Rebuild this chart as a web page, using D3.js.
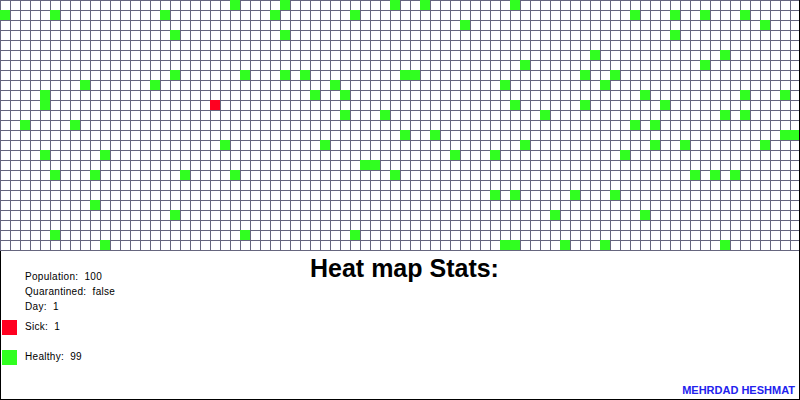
<!DOCTYPE html>
<html>
<head>
<meta charset="utf-8">
<script src="https://cdn.jsdelivr.net/npm/d3@7"></script>
<style>
  html, body { margin: 0; padding: 0; background: #fff; }
  svg { display: block; }
  text { white-space: pre; }
</style>
</head>
<body>
<svg id="chart" width="800" height="400"></svg>
<script>
// ---- data ----
const nCols = 80;
const nRows = 25;
const healthyCols = [0,5,16,17,17,8,15,4,4,2,7,
  23,28,39,27,35,28,24,28,30,33,31,34,34,38,
  42,51,46,59,52,40,41,58,50,51,58,54,
  63,67,70,74,76,67,72,70,61,60,64,74,78,66,72,74,63,65,
  4,10,5,9,18,9,17,5,10,
  22,32,36,37,23,39,24,35,
  40,43,52,45,49,49,51,57,55,50,51,56,
  78,79,65,68,76,62,69,71,73,61,64,60,72];
const healthyRows = [1,1,1,3,7,8,8,9,10,12,12,
  0,0,0,1,1,3,7,7,7,8,9,9,11,11,
  0,0,2,5,6,7,7,7,8,10,10,11,
  1,1,1,1,2,3,5,6,7,8,9,9,9,10,11,11,12,12,
  15,15,17,17,17,20,21,23,24,
  14,14,16,16,17,17,23,23,
  13,13,14,15,15,19,19,19,21,24,24,24,
  13,13,14,14,14,15,17,17,17,19,21,24,24];
const sickCols = [21];
const sickRows = [10];
const statLabels = ["Population:", "Quarantined:", "Day:"];
const statValues = ["100", "false", "1"];
const legendLabels = ["Sick:", "Healthy:"];
const legendCounts = [1, 99];
const legendColors = ["#ff0020", "#30ff20"];
const titleText = "Heat map Stats:";
const authorText = "MEHRDAD HESHMAT";

// ---- drawing ----
const svg = d3.select("#chart");
const x = d3.scaleBand().domain(d3.range(nCols)).range([0, 800]);
const y = d3.scaleBand().domain(d3.range(nRows)).range([0, 250]);
const gridColor = "#66667f";

svg.append("rect").attr("width", 800).attr("height", 400).attr("fill", "#fff");

const grid = svg.append("g").attr("shape-rendering", "crispEdges");
grid.selectAll("line.v").data(d3.range(nCols + 1)).join("line")
  .attr("class", "v")
  .attr("x1", d => (d < nCols ? x(d) : 800) + 0.5)
  .attr("x2", d => (d < nCols ? x(d) : 800) + 0.5)
  .attr("y1", 0).attr("y2", 251)
  .attr("stroke", gridColor).attr("stroke-width", 1);
grid.selectAll("line.h").data(d3.range(nRows + 1)).join("line")
  .attr("class", "h")
  .attr("x1", 0).attr("x2", 800)
  .attr("y1", d => (d < nRows ? y(d) : 250) + 0.5)
  .attr("y2", d => (d < nRows ? y(d) : 250) + 0.5)
  .attr("stroke", gridColor).attr("stroke-width", 1);

const healthy = healthyCols.map((c, i) => ({c, r: healthyRows[i]}));
const sick = sickCols.map((c, i) => ({c, r: sickRows[i]}));

const cells = svg.append("g").attr("shape-rendering", "crispEdges");
cells.selectAll("rect.h").data(healthy).join("rect")
  .attr("class", "h")
  .attr("x", d => x(d.c)).attr("y", d => y(d.r))
  .attr("width", x.bandwidth()).attr("height", y.bandwidth())
  .attr("fill", legendColors[1]);
cells.selectAll("rect.s").data(sick).join("rect")
  .attr("class", "s")
  .attr("x", d => x(d.c)).attr("y", d => y(d.r))
  .attr("width", x.bandwidth()).attr("height", y.bandwidth())
  .attr("fill", legendColors[0]);

// frame lines
const frame = svg.append("g").attr("shape-rendering", "crispEdges").attr("stroke", "#000");
frame.append("line").attr("x1", 799.5).attr("x2", 799.5).attr("y1", 0).attr("y2", 400);
frame.append("line").attr("x1", 0.5).attr("x2", 0.5).attr("y1", 251).attr("y2", 400);
frame.append("line").attr("x1", 0).attr("x2", 800).attr("y1", 399.5).attr("y2", 399.5);

// title
svg.append("text")
  .attr("x", 310).attr("y", 277)
  .attr("font-family", "Liberation Sans, Arial, sans-serif")
  .attr("font-weight", "bold").attr("font-size", 25)
  .attr("fill", "#000")
  .text(titleText);

// stats
const fontFam = "Liberation Sans, Arial, sans-serif";
svg.append("g").selectAll("text").data(statLabels).join("text")
  .attr("x", 25).attr("y", (d, i) => 280 + i * 15)
  .attr("font-family", fontFam).attr("font-size", 10)
  .attr("letter-spacing", 0.3)
  .attr("fill", "#000")
  .text((d, i) => d + "  " + statValues[i]);

// legend
const leg = svg.append("g");
leg.selectAll("rect").data(legendLabels).join("rect")
  .attr("shape-rendering", "crispEdges")
  .attr("x", 2).attr("y", (d, i) => 320 + i * 30)
  .attr("width", 15).attr("height", 15)
  .attr("fill", (d, i) => legendColors[i]);
leg.selectAll("text").data(legendLabels).join("text")
  .attr("x", 25).attr("y", (d, i) => 330 + i * 30)
  .attr("font-family", fontFam).attr("font-size", 10)
  .attr("letter-spacing", 0.3)
  .attr("fill", "#000")
  .text((d, i) => d + "  " + legendCounts[i]);

// author
svg.append("text")
  .attr("x", 795).attr("y", 394)
  .attr("text-anchor", "end")
  .attr("font-family", fontFam).attr("font-weight", "bold").attr("font-size", 11)
  .attr("fill", "#2222ee")
  .text(authorText);
</script>
</body>
</html>
